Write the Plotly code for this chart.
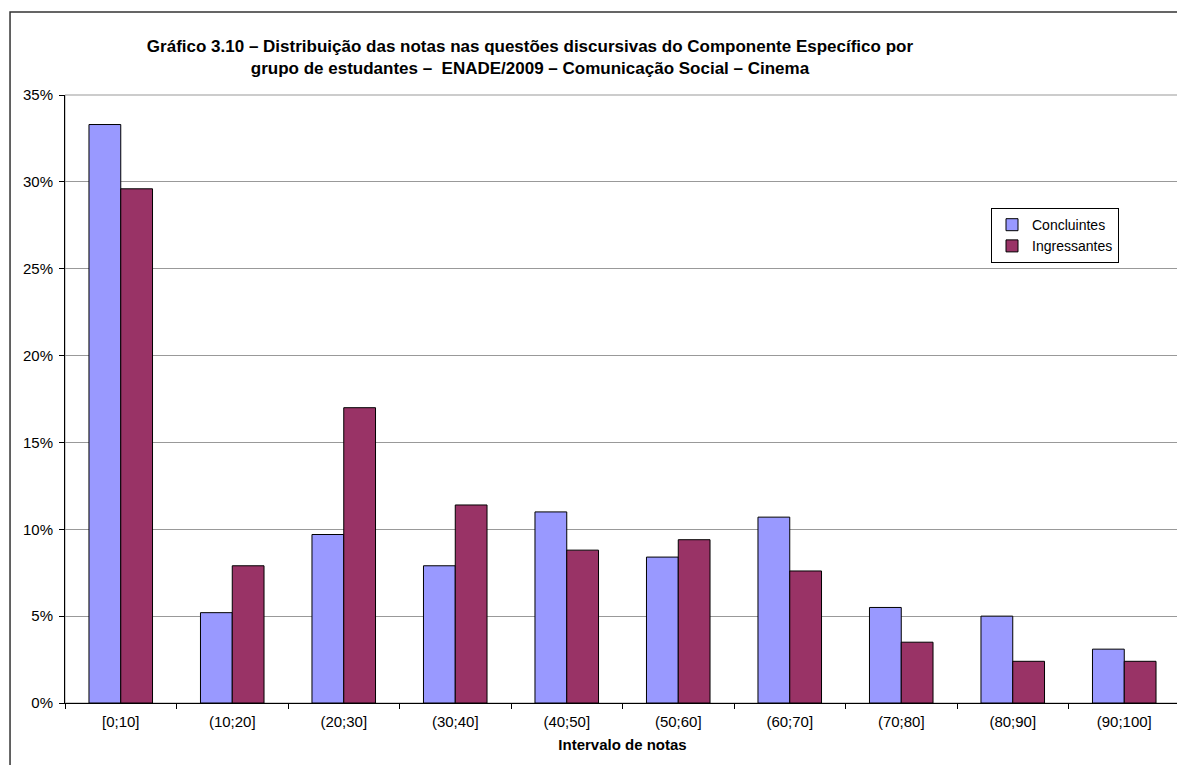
import plotly.graph_objects as go

categorias = ['[0;10]', '(10;20]', '(20;30]', '(30;40]', '(40;50]',
              '(50;60]', '(60;70]', '(70;80]', '(80;90]', '(90;100]']
concluintes = [33.3, 5.2, 9.7, 7.9, 11.0, 8.4, 10.7, 5.5, 5.0, 3.1]
ingressantes = [29.6, 7.9, 17.0, 11.4, 8.8, 9.4, 7.6, 3.5, 2.4, 2.4]
y_ticks = [0, 5, 10, 15, 20, 25, 30, 35]
y_labels = [f'{v}%' for v in y_ticks]

fonte = 'Liberation Sans, Arial, sans-serif'

fig = go.Figure()
fig.add_trace(go.Bar(
    x=categorias, y=concluintes, name='Concluintes',
    marker=dict(color='#9999FF', line=dict(color='black', width=1)),
))
fig.add_trace(go.Bar(
    x=categorias, y=ingressantes, name='Ingressantes',
    marker=dict(color='#993366', line=dict(color='black', width=1)),
))

# page body adds an 8px offset, so the figure is 8px smaller than the window
fig.update_layout(
    width=1177, height=757,
    margin=dict(l=57, r=5, t=87, b=62),
    paper_bgcolor='white', plot_bgcolor='white',
    barmode='group', bargap=0.43, bargroupgap=0,
    font=dict(family=fonte, size=15, color='black'),
    title=dict(
        text='<b>Gráfico 3.10 – Distribuição das notas nas questões discursivas do Componente Específico por'
             '<br>grupo de estudantes –  ENADE/2009 – Comunicação Social – Cinema</b>',
        x=0.417, xref='paper', xanchor='center',
        y=0.942, yref='container', yanchor='top',
        font=dict(family=fonte, size=17, color='black'),
    ),
    legend=dict(
        x=0.8305, y=0.814, xanchor='left', yanchor='top',
        bordercolor='black', borderwidth=1, bgcolor='white',
        font=dict(family=fonte, size=14),
        tracegroupgap=0, itemwidth=30,
    ),
    xaxis=dict(
        showline=True, linecolor='black', linewidth=1,
        ticks='outside', tickson='boundaries', ticklen=5, tickcolor='black',
        ticklabelstandoff=5,
        showgrid=False,
        title=dict(text='<b>Intervalo de notas</b>', font=dict(size=15), standoff=10),
    ),
    yaxis=dict(
        range=[0, 35], tickvals=y_ticks, ticktext=y_labels,
        showline=True, linecolor='black', linewidth=1,
        ticks='outside', ticklen=5, tickcolor='black',
        ticklabelstandoff=3,
        showgrid=True, gridcolor='#999999', gridwidth=1,
        zeroline=False,
    ),
    shapes=[
        # plot area border
        dict(type='rect', xref='paper', yref='paper', x0=0, y0=0, x1=1, y1=1,
             line=dict(color='#999999', width=1), layer='below'),
        # outer chart border
        dict(type='rect', xref='paper', yref='paper',
             x0=-0.0493, y0=-0.15, x1=1.03, y1=1.1365,
             line=dict(color='#333333', width=1.5)),
    ],
)

fig.write_html('out.html')
